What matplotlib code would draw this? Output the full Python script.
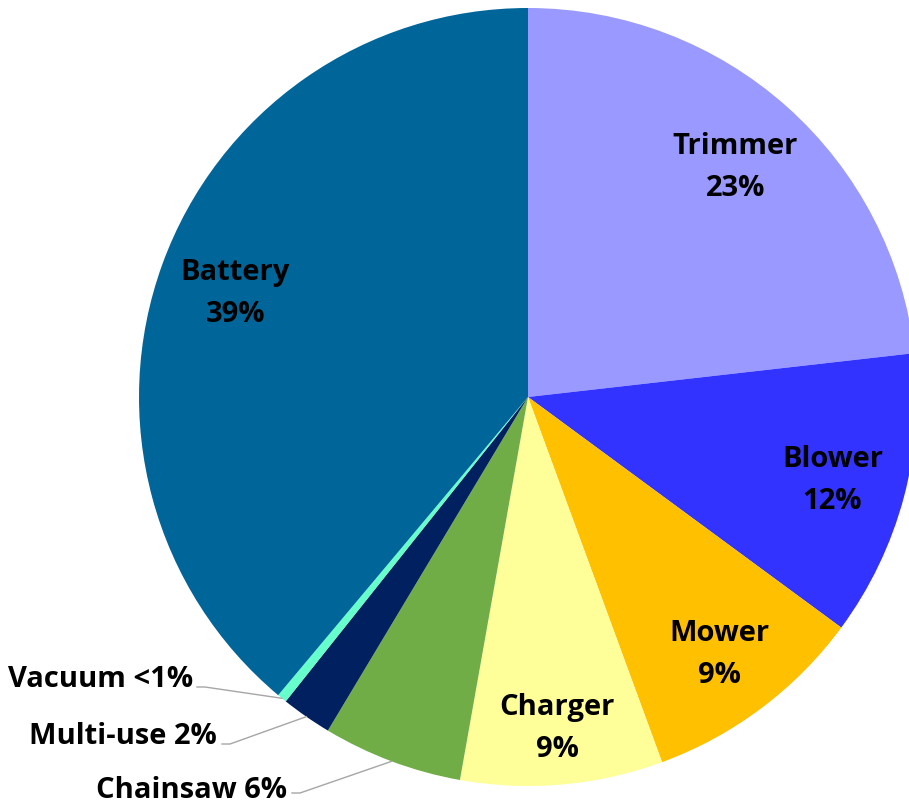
import numpy as np
import matplotlib
matplotlib.use("Agg")
import matplotlib.pyplot as plt

categories = ["Trimmer", "Blower", "Mower", "Charger", "Chainsaw", "Multi-use", "Vacuum", "Battery"]
values = [23.2, 11.9, 9.3, 8.4, 5.8, 2.1, 0.4, 38.9]
pct_labels = ["23%", "12%", "9%", "9%", "6%", "2%", "<1%", "39%"]
colors = ["#9999FF", "#3333FF", "#FFC000", "#FFFF99", "#70AD47", "#002060", "#66FFCC", "#006699"]

W, H = 909, 805
fig = plt.figure(figsize=(W / 100, H / 100), dpi=100)
ax = fig.add_axes([0, 0, 1, 1])

cx, cy, R = 528, H - 397, 389
wedges, _ = ax.pie(values, colors=colors, startangle=90, counterclock=False,
                   center=(cx, cy), radius=R, frame=True,
                   wedgeprops=dict(linewidth=0))
ax.set_xlim(0, W)
ax.set_ylim(0, H)
ax.set_aspect("equal")
ax.axis("off")

font = dict(family=["Open Sans", "DejaVu Sans"], fontweight="bold", fontsize=21, color="black")

inside = {"Trimmer": 0.80, "Blower": 0.81, "Mower": 0.82, "Charger": 0.85, "Battery": 0.80}
for w, cat, pl in zip(wedges, categories, pct_labels):
    if cat in inside:
        mid = np.deg2rad((w.theta1 + w.theta2) / 2)
        d = inside[cat] * R
        x, y = cx + d * np.cos(mid), cy + d * np.sin(mid)
        ax.text(x, y + 11, cat, ha="center", va="baseline", **font)
        ax.text(x, y - 31, pl, ha="center", va="baseline", **font)

# outside labels with leader lines
outside = {
    "Vacuum": ((193, H - 676), (205, H - 687)),
    "Multi-use": ((217, H - 733), (230, H - 744)),
    "Chainsaw": ((287, H - 787), (300, H - 793)),
}
for w, cat, pl in zip(wedges, categories, pct_labels):
    if cat in outside:
        (tx, ty), (lx, ly) = outside[cat]
        ax.text(tx, ty - 11, f"{cat} {pl}", ha="right", va="baseline", **font)
        mid = np.deg2rad((w.theta1 + w.theta2) / 2)
        ex, ey = cx + R * np.cos(mid), cy + R * np.sin(mid)
        ax.plot([lx - 8, lx, ex], [ly, ly, ey], color="#A6A6A6", lw=1)

fig.savefig("out.png", dpi=100)
